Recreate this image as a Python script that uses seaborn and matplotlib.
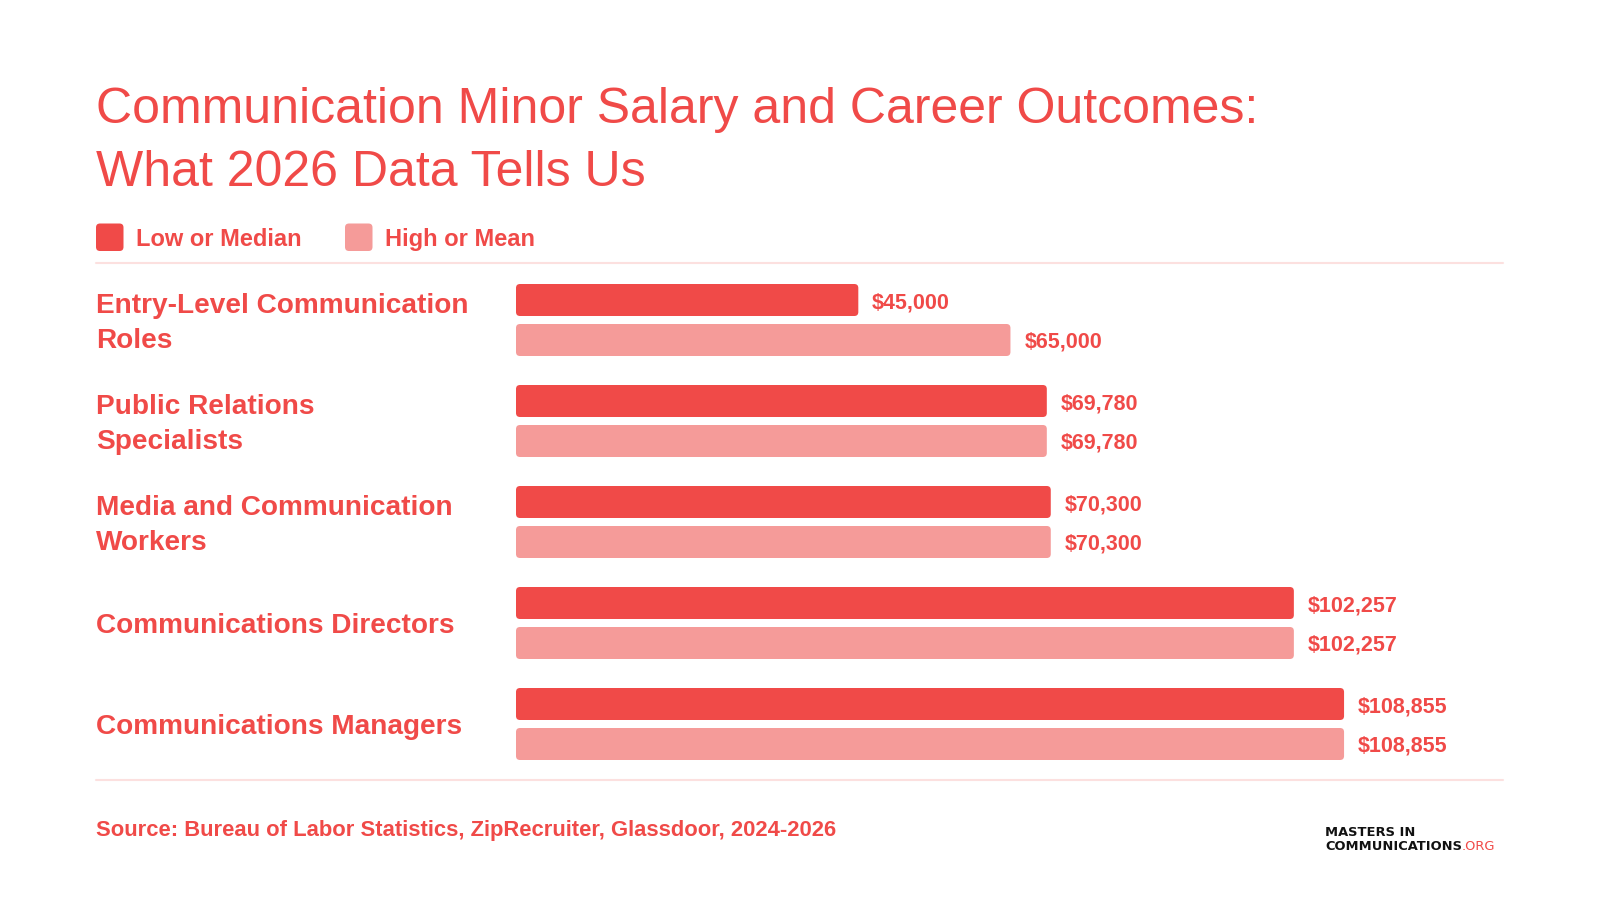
import numpy as np
import pandas as pd
import matplotlib.pyplot as plt
import seaborn as sns
from matplotlib.patches import FancyBboxPatch
from matplotlib.lines import Line2D
import matplotlib.transforms as mtransforms

# Chart data
roles = ['Entry-Level Communication\nRoles', 'Public Relations\nSpecialists',
         'Media and Communication\nWorkers', 'Communications Directors',
         'Communications Managers']
low_median = [45000, 69780, 70300, 102257, 108855]
high_mean = [65000, 69780, 70300, 102257, 108855]
series = ['Low or Median', 'High or Mean']

title_lines = ['Communication Minor Salary and Career Outcomes:', 'What 2026 Data Tells Us']
source = 'Source: Bureau of Labor Statistics, ZipRecruiter, Glassdoor, 2024-2026'

DARK = '#F04A48'
LIGHT = '#F59B99'
RULE = '#FCE0DF'

df = pd.DataFrame({
    'role': roles * 2,
    'salary': low_median + high_mean,
    'type': [series[0]] * len(roles) + [series[1]] * len(roles),
})

sns.set_theme(style='white')
plt.rcParams['font.family'] = ['Liberation Sans', 'DejaVu Sans']

W, H = 1600, 900
fig = plt.figure(figsize=(16, 9), dpi=100)
fig.patch.set_facecolor('white')

# axes placed in pixel coordinates
ax_left, ax_right, ax_top, ax_bottom = 516, 1503, 263, 780
ax = fig.add_axes([ax_left / W, 1 - ax_bottom / H, (ax_right - ax_left) / W, (ax_bottom - ax_top) / H])

sns.barplot(data=df, y='role', x='salary', hue='type', orient='h',
            palette=[DARK, LIGHT], width=0.792, gap=0.2, ax=ax,
            legend=False, saturation=1, errorbar=None)

xmax = 129750
ax.set_xlim(0, xmax)
ax.set_ylim(4 + 56 / 101, -57 / 101)
ax.set_axis_off()

for cont in ax.containers:
    anns = ax.bar_label(cont, labels=[f'${v:,.0f}' for v in cont.datavalues], padding=10,
                        color=DARK, fontsize=15.5, fontweight='bold')
    for a in anns:
        a.set_va('center_baseline')

# rounded bars
px_x = (ax_right - ax_left) / xmax
px_y = (ax_bottom - ax_top) / (4 + 56 / 101 + 57 / 101)
r_px = 4
rx = r_px / px_x
ry = r_px / px_y
for p in list(ax.patches):
    x, y, w, h = p.get_x(), p.get_y(), p.get_width(), p.get_height()
    fc = p.get_facecolor()
    p.remove()
    ax.add_patch(FancyBboxPatch((x, y), w, h, boxstyle=f'round,pad=0,rounding_size={rx}',
                                mutation_aspect=ry / rx, fc=fc, ec='none'))

# category labels
trans = mtransforms.blended_transform_factory(fig.transFigure, ax.transData)
for i, r in enumerate(roles):
    dy = 4 / px_y if '\n' in r else 0
    ax.text(96 / W, i - dy, r, transform=trans, ha='left', va='center_baseline', fontsize=20.2,
            fontweight='bold', color=DARK, linespacing=1.45)

# title
fig.text(96 / W, 1 - 123 / H, title_lines[0], fontsize=36, color=DARK, va='baseline')
fig.text(96 / W, 1 - 186 / H, title_lines[1], fontsize=36, color=DARK, va='baseline')

# legend
for sx, tx, col, lab in [(96, 136, DARK, series[0]), (345, 385, LIGHT, series[1])]:
    fig.patches.append(FancyBboxPatch((sx / W, 1 - 251 / H), 27.5 / W, 27.5 / H,
                                      boxstyle='round,pad=0,rounding_size=0.0025',
                                      mutation_aspect=W / H,
                                      transform=fig.transFigure, fc=col, ec='none'))
    fig.text(tx / W, 1 - 237 / H, lab, fontsize=17, fontweight='bold', color=DARK,
             va='center_baseline')

# rules
for yy in (263, 780):
    fig.add_artist(Line2D([96 / W, 1503 / W], [1 - yy / H, 1 - yy / H], color=RULE, lw=1.5,
                          transform=fig.transFigure))

# source
fig.text(96 / W, 1 - 828 / H, source, fontsize=15.8, fontweight='bold', color=DARK,
         va='center_baseline')

# logo
fig.text(1325 / W, 1 - 832 / H, 'MASTERS IN', fontsize=9.4, fontweight='bold', color='#111111',
         va='center', family='DejaVu Sans')
t = fig.text(1325 / W, 1 - 846 / H, 'COMMUNICATIONS', fontsize=9.4, fontweight='bold',
             color='#111111', va='center', family='DejaVu Sans')
fig.canvas.draw()
bb = t.get_window_extent()
fig.text(bb.x1 / W, 1 - 846 / H, '.ORG', fontsize=9.4, color=DARK, va='center', family='DejaVu Sans')

fig.savefig('out.png', dpi=100, facecolor='white')
